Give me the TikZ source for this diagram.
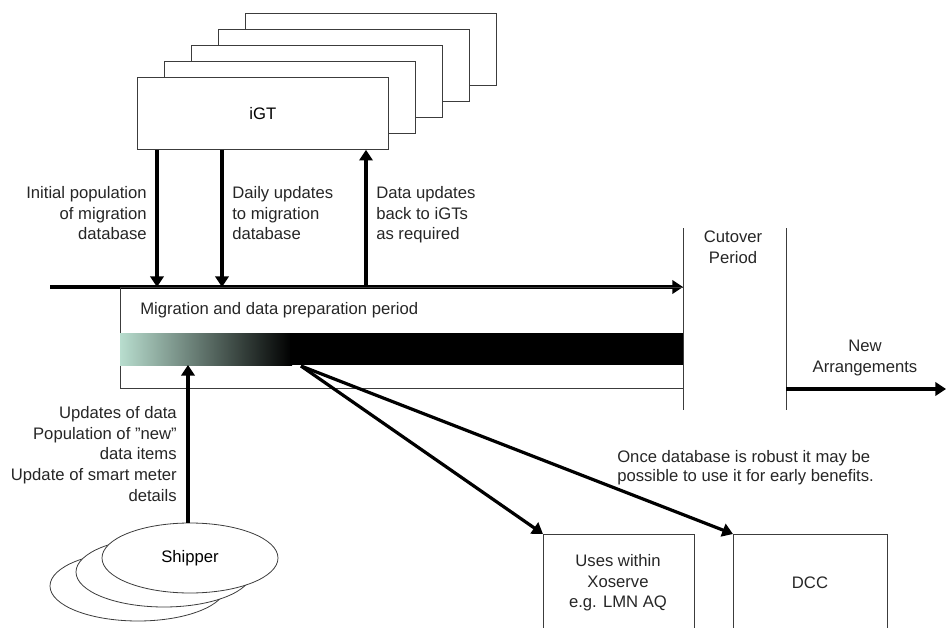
\documentclass[tikz,border=0pt]{standalone}
\usepackage{fontspec}
\setmainfont{Liberation Sans}
\usetikzlibrary{arrows.meta,positioning,calc,shapes.geometric}
\usepackage{xcolor}
\definecolor{mint}{RGB}{184,221,206}
\definecolor{edge}{RGB}{60,60,60}

\tikzset{
 box/.style={draw=edge,fill=white,line width=0.6pt,minimum width=188.25pt,
 minimum height=54pt,align=center,font=\fontsize{12.5}{15}\selectfont},
 flow/.style={-{Triangle[length=8pt,width=10pt]},line width=2.4pt},
 lbl/.style={font=\fontsize{12.5}{15.5}\selectfont,text=black!85,inner sep=0pt},
 rule/.style={draw=edge,line width=0.6pt},
 shipper/.style={ellipse,draw=edge,fill=white,line width=0.6pt,minimum width=132pt,
 minimum height=52.5pt,font=\fontsize{12.5}{15}\selectfont},
}

\begin{document}
\begin{tikzpicture}[x=0.75pt,y=-0.75pt]
\clip (0,0) rectangle (947,628);
% iGT stack
\foreach \i in {4,3,2,1}
  \node[box,anchor=north west] (igt\i) at (137+27*\i,77-16*\i) {};
\node[box,anchor=north west] (igt) at (137,77) {iGT};

% time line
\coordinate (tl0) at (50,287);
\coordinate (tl1) at (683,287);
\draw[flow] (tl0) -- (tl1);
\draw[flow] ([xshift=15pt]igt.south west) -- ([xshift=15pt]igt.south west |- tl0);
\draw[flow] ([xshift=63.75pt]igt.south west) -- ([xshift=63.75pt]igt.south west |- tl0);
\draw[flow] ([xshift=171.75pt]igt.south west |- tl0) -- ([xshift=171.75pt]igt.south west);
\node[lbl,align=right,anchor=north east] (init) at (147,186) {Initial population\\of migration\\database};
\node[lbl,align=left,anchor=north west] (daily) at (232,186) {Daily updates\\to migration\\database};
\node[lbl,align=left,anchor=north west] (back) at (376,186) {Data updates\\back to iGTs\\as required};

% migration period
\node[rule,anchor=north west,minimum width=422.25pt,minimum height=75.75pt] (mig) at (120,287) {};
\node[lbl,anchor=west] (miglbl) at (140,310) {Migration and data preparation period};
\shade[left color=mint,middle color=mint!55!black,right color=black] (120,333) rectangle (292,365);
\fill[black] (290,333) rectangle (683,365);

% cutover
\coordinate (cut0) at (683,228);
\coordinate (cut1) at (683,410);
\coordinate (new0) at (786,228);
\coordinate (new1) at (786,410);
\draw[rule] (cut0) -- (cut1);
\draw[rule] (new0) -- (new1);
\node[lbl,align=center] (cutover) at (733,247) {Cutover\\Period};
\node[lbl,align=center] (newarr) at (865,358) {New\\Arrangements};
\coordinate (na0) at (786,389);
\coordinate (na1) at (946,389);
\draw[flow] (na0) -- (na1);

% shippers
\foreach \i in {2,1}
  \node[shipper] (ship\i) at (190-26*\i,558+14*\i) {};
\node[shipper] (ship) at (190,558) {Shipper};
\coordinate (bar) at (188,365);
\draw[flow] (ship.north -| bar) -- (bar);
\node[lbl,align=right,anchor=north east] (shiplbl) at (177,406)
  {Updates of data\\Population of "new"\\data items\\Update of smart meter\\details};

% early benefits
\node[rule,anchor=north west,minimum width=113.25pt,minimum height=80pt] (xos) at (543,534) {};
\node[lbl,align=center] (xoslbl) at (618,583) {Uses within\\Xoserve\\e.g. LMN AQ};
\node[rule,anchor=north west,minimum width=115.5pt,minimum height=80pt] (dcc) at (733,534) {};
\node[lbl] (dcclbl) at (810,583) {DCC};
\coordinate (fan) at (301,366);
\draw[flow] (fan) -- (xos.north west);
\draw[flow] (fan) -- (dcc.north west);
\node[lbl,align=left,anchor=north west,font=\fontsize{12.5}{14}\selectfont] (once) at (617,450)
  {Once database is robust it may be\\possible to use it for early benefits.};
\end{tikzpicture}
\end{document}
